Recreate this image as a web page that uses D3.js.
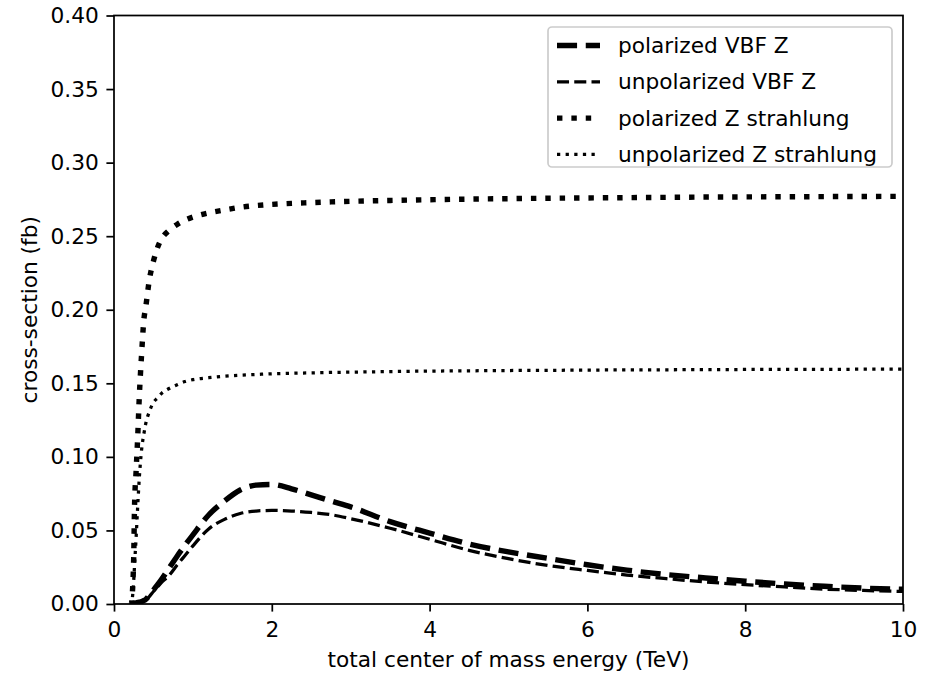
<!DOCTYPE html>
<html>
<head>
<meta charset="utf-8">
<script src="https://cdn.jsdelivr.net/npm/d3@7"></script>
<style>
  body { margin: 0; background: #fff; }
  svg { display: block; font-family: "DejaVu Sans", sans-serif; }
  .tick text { font-size: 21.7px; fill: #000; }
</style>
</head>
<body>
<svg id="chart" width="932" height="676"></svg>
<script>
// total center of mass energy (TeV)
var energy = [0.2, 0.22, 0.23, 0.24, 0.25, 0.26, 0.28, 0.3, 0.32, 0.35, 0.38, 0.4, 0.45, 0.5, 0.55, 0.6,
  0.7, 0.8, 0.9, 1.0, 1.2, 1.4, 1.6, 1.8, 2.0, 2.25, 2.5, 2.75, 3.0, 3.5, 4.0, 4.5, 5.0, 5.5,
  6.0, 6.5, 7.0, 7.5, 8.0, 8.5, 9.0, 9.5, 10.0];

// cross-section (fb)
var vbfPol = [0, 0.0002, 0.0003, 0.0004, 0.0005, 0.0006, 0.0008, 0.001, 0.0012, 0.0016, 0.0024, 0.003, 0.006, 0.0095, 0.013, 0.0165,
  0.0245, 0.0325, 0.040, 0.047, 0.0605, 0.0700, 0.0775, 0.0808, 0.0812, 0.0783, 0.0742, 0.0700, 0.0660, 0.0560, 0.0482, 0.0408, 0.0354, 0.0310,
  0.0267, 0.0230, 0.0200, 0.0177, 0.0155, 0.0136, 0.0121, 0.0108, 0.0100];

var vbfUnpol = [0, 0.0002, 0.0003, 0.0004, 0.0005, 0.0006, 0.0008, 0.001, 0.0012, 0.0015, 0.0022, 0.0027, 0.0052, 0.0085, 0.0115, 0.0145,
  0.0195, 0.0265, 0.0330, 0.0395, 0.0510, 0.0575, 0.0615, 0.0632, 0.0636, 0.0632, 0.0622, 0.0607, 0.0580, 0.0515, 0.0440, 0.0365, 0.0308, 0.0262,
  0.0228, 0.0197, 0.0172, 0.0150, 0.0131, 0.0116, 0.0101, 0.0092, 0.0085];

var zsPol = [0, 0, 0.005, 0.015, 0.032, 0.066, 0.090, 0.113, 0.140, 0.170, 0.194, 0.201, 0.221, 0.233, 0.242, 0.248,
  0.254, 0.258, 0.261, 0.263, 0.2658, 0.2678, 0.2696, 0.2708, 0.2716, 0.2723, 0.2728, 0.2733, 0.2737, 0.2743, 0.2748, 0.2752, 0.2755, 0.2758,
  0.2760, 0.2762, 0.2764, 0.2766, 0.2767, 0.2768, 0.2769, 0.2770, 0.2771];

var zsUnpol = [0, 0, 0.003, 0.008, 0.016, 0.026, 0.045, 0.066, 0.085, 0.105, 0.116, 0.122, 0.131, 0.137, 0.140, 0.143,
  0.1465, 0.149, 0.1512, 0.1525, 0.1538, 0.1548, 0.1555, 0.1560, 0.1565, 0.1568, 0.1571, 0.1574, 0.1576, 0.1580, 0.1583, 0.1585, 0.1587, 0.1588,
  0.1590, 0.1591, 0.1592, 0.1593, 0.1594, 0.1595, 0.1595, 0.1596, 0.1597];

var seriesNames = ["polarized VBF Z", "unpolarized VBF Z", "polarized Z strahlung", "unpolarized Z strahlung"];
var xTicks = [0, 2, 4, 6, 8, 10];
var yTicks = [0, 0.05, 0.10, 0.15, 0.20, 0.25, 0.30, 0.35, 0.40];

var fs = 21.7; // 10pt
var pt = 2.17;

var svg = d3.select("#chart");
var plotLeft = 114, plotRight = 903, plotTop = 15.5, plotBottom = 604;

var x = d3.scaleLinear().domain([0, 10]).range([plotLeft, plotRight]);
var y = d3.scaleLinear().domain([0, 0.40]).range([plotBottom, plotTop]);

var styles = [
  { width: 2.5 * pt, dash: [3.7 * 2.5 * pt, 1.6 * 2.5 * pt] },
  { width: 1.5 * pt, dash: [3.7 * 1.5 * pt, 1.6 * 1.5 * pt] },
  { width: 2.5 * pt, dash: [1 * 2.5 * pt, 1.65 * 2.5 * pt] },
  { width: 1.5 * pt, dash: [1 * 1.5 * pt, 1.65 * 1.5 * pt] }
];

var series = [vbfPol, vbfUnpol, zsPol, zsUnpol].map(function (vals, i) {
  return {
    name: seriesNames[i],
    style: styles[i],
    points: energy.map(function (e, j) { return [e, vals[j]]; })
  };
});

svg.append("defs").append("clipPath").attr("id", "clip")
  .append("rect")
  .attr("x", plotLeft).attr("y", plotTop)
  .attr("width", plotRight - plotLeft).attr("height", plotBottom - plotTop);

var line = d3.line()
  .x(function (d) { return x(d[0]); })
  .y(function (d) { return y(d[1]); })
  .curve(d3.curveMonotoneX);

svg.append("g")
  .attr("clip-path", "url(#clip)")
  .selectAll("path")
  .data(series)
  .enter()
  .append("path")
  .attr("d", function (d) { return line(d.points); })
  .attr("fill", "none")
  .attr("stroke", "#000")
  .attr("stroke-width", function (d) { return d.style.width; })
  .attr("stroke-dasharray", function (d) { return d.style.dash.join(","); });

// axes
var xAxis = svg.append("g")
  .attr("transform", "translate(0," + plotBottom + ")")
  .call(d3.axisBottom(x).tickValues(xTicks).tickFormat(d3.format("d"))
    .tickSize(3.5 * pt).tickPadding(3.5 * pt).tickSizeOuter(0));

var yAxis = svg.append("g")
  .attr("transform", "translate(" + plotLeft + ",0)")
  .call(d3.axisLeft(y).tickValues(yTicks).tickFormat(d3.format(".2f"))
    .tickSize(3.5 * pt).tickPadding(3.5 * pt).tickSizeOuter(0));

[xAxis, yAxis].forEach(function (g) {
  g.select(".domain").remove();
  g.selectAll(".tick line").attr("stroke", "#000").attr("stroke-width", 0.8 * pt);
  g.selectAll(".tick text").attr("font-family", "DejaVu Sans").attr("font-size", fs);
});
xAxis.selectAll(".tick text").attr("dy", null).attr("y", 3.5 * pt * 2 + 0.8 * fs);

// frame
svg.append("rect")
  .attr("x", plotLeft).attr("y", plotTop)
  .attr("width", plotRight - plotLeft).attr("height", plotBottom - plotTop)
  .attr("fill", "none")
  .attr("stroke", "#000")
  .attr("stroke-width", 0.8 * pt);

svg.append("text")
  .attr("x", (plotLeft + plotRight) / 2)
  .attr("y", 667)
  .attr("text-anchor", "middle")
  .attr("font-size", fs)
  .text("total center of mass energy (TeV)");

svg.append("text")
  .attr("transform", "translate(37," + (plotTop + plotBottom) / 2 + ") rotate(-90)")
  .attr("text-anchor", "middle")
  .attr("font-size", fs)
  .text("cross-section (fb)");

// legend
var lgX = 548, lgY = 27, lgW = 892 - 548, lgH = 140;
var legend = svg.append("g");
legend.append("rect")
  .attr("x", lgX).attr("y", lgY)
  .attr("width", lgW).attr("height", lgH)
  .attr("rx", 4).attr("ry", 4)
  .attr("fill", "#fff").attr("fill-opacity", 0.8)
  .attr("stroke", "#ccc").attr("stroke-width", 1.7);

var rows = legend.selectAll("g.row")
  .data(series)
  .enter()
  .append("g")
  .attr("class", "row")
  .attr("transform", function (d, i) { return "translate(0," + (45.5 + i * 36.3) + ")"; });

rows.append("line")
  .attr("x1", 557).attr("x2", 600)
  .attr("stroke", "#000")
  .attr("stroke-width", function (d) { return d.style.width; })
  .attr("stroke-dasharray", function (d) { return d.style.dash.join(","); });

rows.append("text")
  .attr("x", 618)
  .attr("dy", "0.35em")
  .attr("font-size", fs)
  .text(function (d) { return d.name; });
</script>
</body>
</html>
